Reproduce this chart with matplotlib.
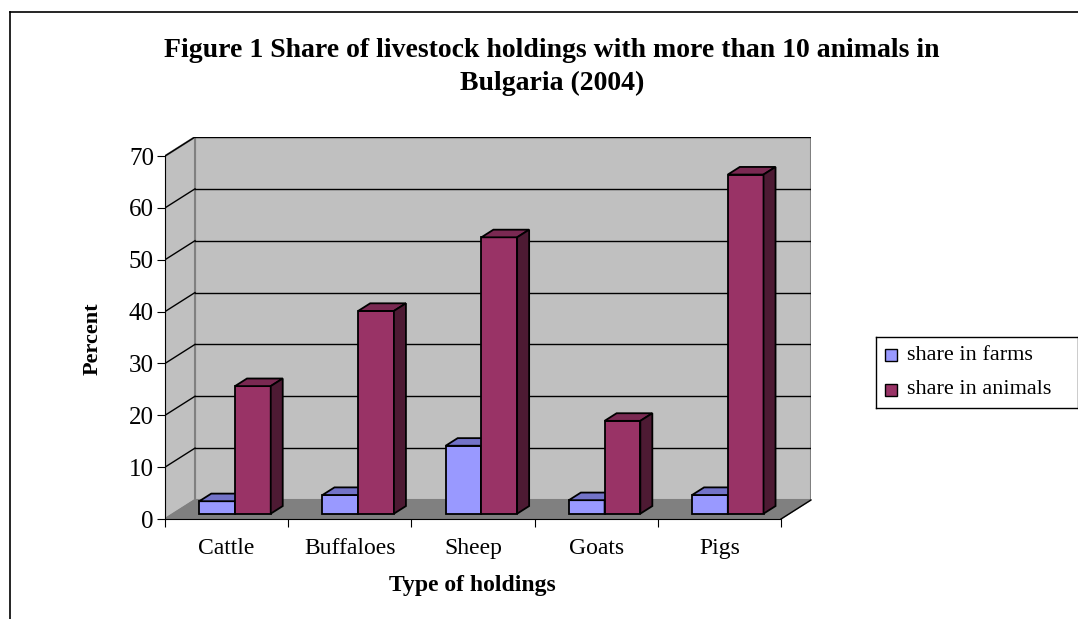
import matplotlib
matplotlib.use('Agg')
import matplotlib.pyplot as plt
from matplotlib.patches import Polygon, Rectangle
import numpy as np

categories = ['Cattle', 'Buffaloes', 'Sheep', 'Goats', 'Pigs']
share_farms = [2.4, 3.6, 13.1, 2.6, 3.6]
share_animals = [24.6, 39.1, 53.3, 17.9, 65.4]
yticks = [0, 10, 20, 30, 40, 50, 60, 70]

plt.rcParams['font.family'] = ['Liberation Serif', 'DejaVu Serif']

# oblique depth of the 3d box, in data units
DX, DY = 0.2435, 3.67
d0, d1 = 0.28, 0.68           # bar depth (fraction of box depth)
bw = 0.29                     # bar width
ymax = 70

fig = plt.figure(figsize=(10.78, 6.19), dpi=100)
W, H = 1078, 619
ax = fig.add_axes([165 / W, (H - 519) / H, (811 - 165) / W, (519 - 137) / H])
ax.set_xlim(0, 5 + DX)
ax.set_ylim(0, ymax + DY)
n = len(categories)

wall = '#c0c0c0'
edge = '#808080'
# back wall and left wall
ax.add_patch(Polygon([(DX, DY), (n + DX, DY), (n + DX, ymax + DY), (DX, ymax + DY)],
                     closed=True, fc=wall, ec=edge, lw=1.5, zorder=1))
ax.add_patch(Polygon([(0, 0), (DX, DY), (DX, ymax + DY), (0, ymax)],
                     closed=True, fc=wall, ec=edge, lw=1.5, zorder=1))
# gridlines
for t in yticks[1:]:
    ax.plot([DX, n + DX], [t + DY, t + DY], color='black', lw=1, zorder=2)
    ax.plot([0, DX], [t, t + DY], color='black', lw=1, zorder=2)
# floor
ax.add_patch(Polygon([(0, 0), (n, 0), (n + DX, DY), (DX, DY)],
                     closed=True, fc='#808080', ec='#808080', lw=1, zorder=2))


def bar3d(x0, v, front, top, side):
    ox, oy = d0 * DX, d0 * DY
    ddx, ddy = (d1 - d0) * DX, (d1 - d0) * DY
    xl = x0 + ox
    ax.bar(xl, v, width=bw, bottom=oy, align='edge', color=front,
           edgecolor='black', lw=1.3, zorder=3)
    ax.add_patch(Polygon([(xl, oy + v), (xl + bw, oy + v), (xl + bw + ddx, oy + v + ddy),
                          (xl + ddx, oy + v + ddy)], closed=True, fc=top,
                         ec='black', lw=1.3, zorder=3))
    ax.add_patch(Polygon([(xl + bw, oy), (xl + bw + ddx, oy + ddy), (xl + bw + ddx, oy + v + ddy),
                          (xl + bw, oy + v)], closed=True, fc=side,
                         ec='black', lw=1.3, zorder=3))


for i in range(n):
    bar3d(i + 0.5 - bw, share_farms[i], '#9999ff', '#7373c8', '#4d4d80')
    bar3d(i + 0.5, share_animals[i], '#993366', '#7a2952', '#4d1a33')

# axes
for s in ['top', 'right']:
    ax.spines[s].set_visible(False)
ax.spines['left'].set_bounds(0, ymax)
ax.spines['bottom'].set_bounds(0, n)
ax.spines['bottom'].set_zorder(4)
ax.set_yticks(yticks)
ax.set_yticklabels([str(t) for t in yticks], fontsize=18)
ax.set_xticks(range(n + 1))
ax.set_xticklabels([])
ax.set_xticks(np.arange(n) + 0.5, minor=True)
ax.set_xticklabels(categories, minor=True, fontsize=17)
ax.tick_params(axis='x', which='minor', length=0, pad=14)
ax.tick_params(axis='x', which='major', length=6, direction='out')
ax.tick_params(axis='y', length=6, direction='out', pad=2)
ax.set_facecolor('none')

# diagonal at the floor right edge
ax.plot([n, n + DX], [0, DY], color='black', lw=1, zorder=4, clip_on=False)

fig.text(472 / W, 1 - 586 / H, 'Type of holdings', ha='center', va='center',
         fontsize=17, fontweight='bold')
fig.text(93 / W, 1 - 339 / H, 'Percent', ha='center', va='center', rotation=90,
         fontsize=16, fontweight='bold')
fig.text(552 / W, 1 - 67 / H,
         'Figure 1 Share of livestock holdings with more than 10 animals in\nBulgaria (2004)',
         ha='center', va='center', fontsize=20, fontweight='bold', linespacing=1.4)

# legend box
leg = fig.add_axes([876 / W, (H - 408) / H, (1078 - 876) / W, 71 / H])
leg.set_xlim(0, 202)
leg.set_ylim(71, 0)
leg.set_xticks([])
leg.set_yticks([])
for s in leg.spines.values():
    s.set_color('black')
    s.set_linewidth(1)
for k, (lab, c) in enumerate([('share in farms', '#9999ff'), ('share in animals', '#993366')]):
    yc = 18 + k * 35
    leg.add_patch(Rectangle((9, yc - 6), 12, 12, fc=c, ec='black', lw=1))
    leg.text(31, yc, lab, va='center', ha='left', fontsize=16)

# chart border
fig.add_artist(plt.Line2D([10 / W, 10 / W], [0, 1 - 12 / H], color='black', lw=1.2))
fig.add_artist(plt.Line2D([10 / W, 1], [1 - 12 / H, 1 - 12 / H], color='black', lw=1.2))

fig.savefig('out.png', dpi=100)
